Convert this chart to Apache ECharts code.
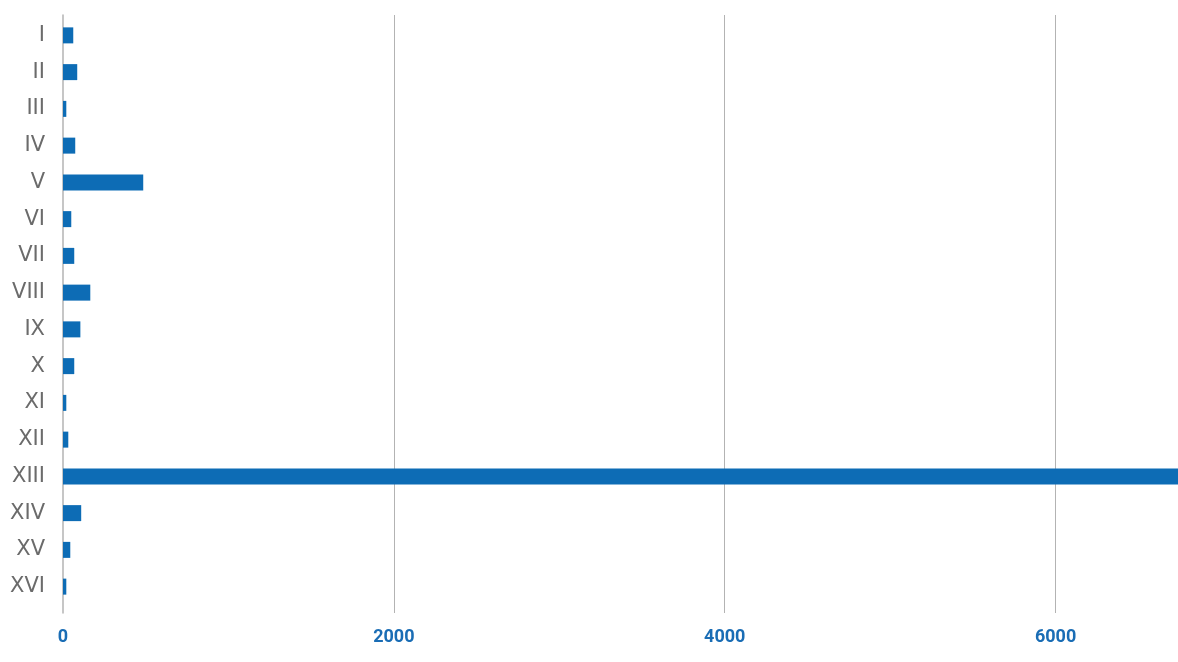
<!DOCTYPE html>
<html>
<head>
<meta charset="utf-8">
<script src="https://cdn.jsdelivr.net/npm/echarts@6/dist/echarts.min.js"></script>
<style>html,body{margin:0;padding:0;background:#fff}#c{width:1178px;height:662px}</style>
</head>
<body>
<div id="c"></div>
<script>
const categories = ['I','II','III','IV','V','VI','VII','VIII','IX','X','XI','XII','XIII','XIV','XV','XVI'];
const values = [62, 86, 20, 74, 485, 50, 68, 165, 105, 68, 20, 32, 6740, 110, 44, 20];
const xTicks = [0, 2000, 4000, 6000];
const xMax = 6740;

const chart = echarts.init(document.getElementById('c'));
chart.setOption({
  animation: false,
  grid: [
    { left: 63, right: 0, top: 17, bottom: 57 },
    { left: 63, right: 0, top: 15, bottom: 49 }
  ],
  xAxis: [
    { gridIndex: 0, type: 'value', min: 0, max: xMax, show: false },
    {
      gridIndex: 1, type: 'value', min: 0, max: xMax, interval: 2000,
      axisLine: { show: false }, axisTick: { show: false },
      splitLine: { show: true, lineStyle: { color: '#b3b3b3', width: 1 }, showMinLine: false },
      axisLabel: {
        color: '#1a6db5', fontSize: 18, fontWeight: 'bold',
        fontFamily: 'Roboto, sans-serif',
        margin: 15, showMaxLabel: false,
        formatter: v => xTicks.includes(v) ? String(v) : ''
      }
    }
  ],
  yAxis: [
    {
      gridIndex: 0, type: 'category', data: categories, inverse: true,
      axisLine: { show: false }, axisTick: { show: false },
      axisLabel: { color: '#6b6b6b', fontSize: 21, fontFamily: '"DejaVu Sans", sans-serif', margin: 18 }
    },
    {
      gridIndex: 1, type: 'value', min: 0, max: 1,
      axisLine: { show: true, lineStyle: { color: '#b3b3b3', width: 1.5 } },
      axisTick: { show: false }, axisLabel: { show: false }, splitLine: { show: false }
    }
  ],
  series: [{
    type: 'bar', xAxisIndex: 0, yAxisIndex: 0, data: values, barWidth: 16,
    itemStyle: { color: '#0d6cb5' }
  }]
});
</script>
</body>
</html>
